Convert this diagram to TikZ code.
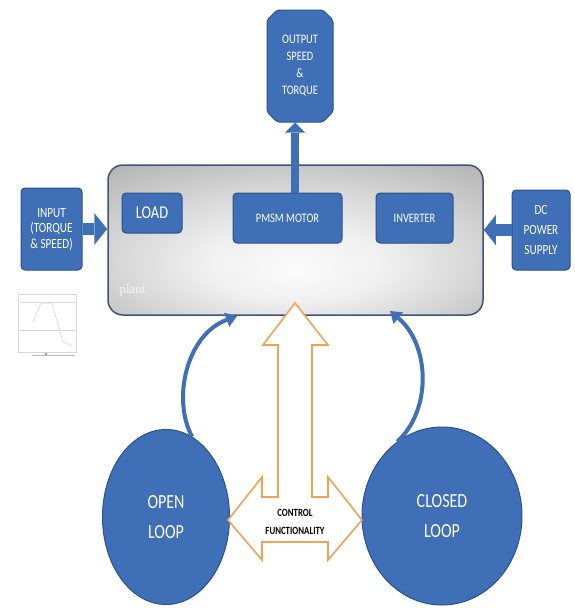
\documentclass[tikz,border=0pt]{standalone}
\usepackage{fontspec}
\setmainfont{Carlito}
\newfontfamily\cond[FakeStretch=0.8]{Carlito}
\newfontfamily\serifplant{Liberation Serif}
\usetikzlibrary{shapes.geometric,shapes.misc,arrows.meta}
\definecolor{myblue}{RGB}{63,111,182}
\definecolor{myblueD}{RGB}{42,82,145}
\definecolor{myorange}{RGB}{238,162,85}
\definecolor{plantedge}{RGB}{62,84,122}
\pgfdeclareradialshading{plantshade}{\pgfpoint{0bp}{-10bp}}{color(0bp)=(gray!3); color(12bp)=(gray!12); color(24bp)=(gray!32); color(36bp)=(gray!55); color(50bp)=(gray!78); color(71bp)=(gray!90)}
\begin{document}
\begin{tikzpicture}[x=1pt,y=-1pt,
  bluebox/.style={draw=myblueD, fill=myblue, line width=1pt, rounded corners=4pt, text=white, align=center, inner sep=0pt},
  loopnode/.style={ellipse, draw=myblueD, fill=myblue, line width=1pt, text=white, align=center, inner sep=0pt},
  blockarrow/.style={draw=myblue, line width=#1},
  curvearrow/.style={draw=myblue, line width=4pt, -{Triangle[length=11pt,width=15pt,line width=0pt]}}
]
\useasboundingbox (0,0) rectangle (574,608);

% plant
\node[draw=plantedge, line width=1.5pt, rounded corners=15pt, minimum width=375pt, minimum height=150pt, inner sep=0pt, shading=plantshade] (plant) at (295.5,240) {};
\node[font=\serifplant\fontsize{13}{13}\selectfont, text=white!92!gray, anchor=west] (plantlabel) at (116,290) {plant};

% inner boxes
\node[bluebox, minimum width=60pt, minimum height=40pt, font=\cond\fontsize{18}{18}\selectfont] (load) at (152,213) {LOAD};
\node[bluebox, minimum width=109pt, minimum height=50pt, font=\cond\fontsize{13}{15}\selectfont] (pmsm) at (287.5,218) {PMSM MOTOR};
\node[bluebox, minimum width=77pt, minimum height=50pt, font=\cond\fontsize{13}{15}\selectfont] (inverter) at (414.5,218) {INVERTER};

% outer boxes
\node[bluebox, chamfered rectangle, chamfered rectangle xsep=5pt, chamfered rectangle ysep=5pt, rounded corners=2pt, minimum width=66pt, minimum height=112pt, font=\cond\fontsize{13}{17}\selectfont] (output) at (300,66) {OUTPUT\\SPEED\\\&\\TORQUE};
\node[bluebox, minimum width=61pt, minimum height=82pt, font=\cond\fontsize{14}{15.5}\selectfont] (input) at (51.5,229) {INPUT\\(TORQUE\\\& SPEED)};
\node[bluebox, minimum width=58pt, minimum height=80pt, font=\cond\fontsize{14}{20}\selectfont] (dc) at (541,230) {DC\\POWER\\SUPPLY};

% loops
\node[loopnode, minimum width=127pt, minimum height=175pt, font=\cond\fontsize{20}{30}\selectfont] (openloop) at (166,517) {OPEN\\LOOP};
\node[loopnode, minimum width=160pt, minimum height=178pt, font=\cond\fontsize{20}{30}\selectfont] (closedloop) at (442,516) {CLOSED\\LOOP};

% block arrows
\draw[blockarrow=12pt, -{Triangle[length=13pt,width=32pt,line width=0pt]}] (input.east) -- (input.east -| plant.west);
\draw[blockarrow=12pt, -{Triangle[length=12pt,width=30pt,line width=0pt]}] (dc.west) -- (dc.west -| plant.east);
\coordinate (outbot) at ([xshift=-5pt]output.south);
\draw[blockarrow=8pt, -{Triangle[length=10pt,width=20pt,line width=0pt]}] (pmsm.north -| outbot) -- (outbot);

% curved feedback arrows
\coordinate (ltip) at (237,316);
\coordinate (rtip) at (390,311);
\draw[curvearrow] (openloop.72) .. controls (172,400) and (186,335) .. (ltip);
\draw[curvearrow] (closedloop.121) .. controls (432,410) and (430,345) .. (rtip);

% control functionality hollow arrow
\draw[myorange, line width=1.6pt, fill=white, line join=miter]
  (295,303) -- (328,345) -- (312,345) -- (312,497) -- (328,497) -- (328,477)
  -- (362,520) -- (328,560) -- (328,542) -- (262,542) -- (262,560) -- (228,520)
  -- (262,477) -- (262,497) -- (278,497) -- (278,345) -- (263,345) -- cycle;
\node[font=\cond\bfseries\fontsize{11}{18}\selectfont, text=black, align=center] (ctrl) at (295,522) {CONTROL\\FUNCTIONALITY};

% small thumbnail plot
\begin{scope}[gray!30, line width=0.6pt]
  \draw (18,294) rectangle (76,352);
  \draw (20,302) -- (75,302);
  \draw (18,330) -- (76,330);
  \draw (33,322) -- (41,303) -- (52,303) -- (63,342) -- (72,346);
  \draw[gray!55, line width=1pt] (32,355) -- (75,355);
  \fill[gray!70] (46,354) circle (1.6pt);
\end{scope}
\end{tikzpicture}
\end{document}
